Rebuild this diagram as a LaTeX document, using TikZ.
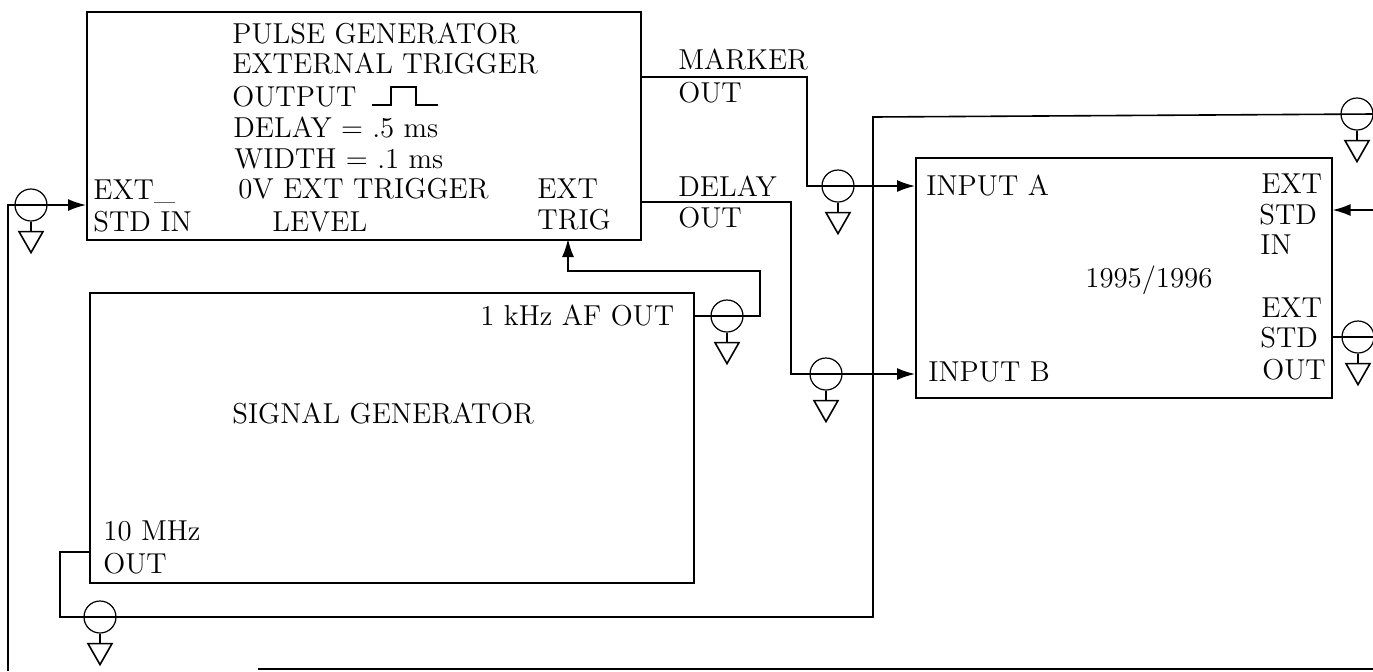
\documentclass[tikz,border=0pt]{standalone}
\usepackage{tikz}
\usetikzlibrary{arrows.meta,positioning,calc}

\tikzset{
    wire/.style={black, line width=0.8pt},
    feed/.style={wire, -{Latex[length=9pt,width=6pt]}},
    unitbox/.style={draw, line width=0.8pt, inner sep=0pt, anchor=north west},
    label/.style={anchor=base west, inner sep=0pt, font=\fontsize{14.4}{16}\selectfont},
    coax/.style={draw, circle, line width=0.6pt, minimum size=16pt, inner sep=0pt},
}

\begin{document}
\begin{tikzpicture}[x=0.5pt, y=-0.5pt]

    \useasboundingbox (0,0) rectangle (1373,671);

    % Instrument boxes
    \node[unitbox, minimum width=277pt, minimum height=114pt] (pulse) at (86,11) {};
    \node[unitbox, minimum width=302pt, minimum height=145pt] (signal) at (89,292) {};
    \node[unitbox, minimum width=208pt, minimum height=120pt] (counter) at (915,157) {};

    % Pulse generator text
    \foreach \n/\x/\y/\t in {pgtitle/232/43/PULSE GENERATOR, pgmode/232/73/EXTERNAL TRIGGER,
                             pgout/232/106/OUTPUT, pgdelay/233/137/{DELAY = .5 ms},
                             pgwidth/234/168/{WIDTH = .1 ms}, pglevel/238/198/0V EXT TRIGGER,
                             pglevelb/272/231/LEVEL, pgext/537/198/EXT, pgtrig/537/229/TRIG,
                             pgstd/93/199/EXT\_, pgstdb/93/231/STD IN} {
        \node[label] (\n) at (\x,\y) {\t};
    }

    % Output pulse glyph
    \draw[wire] (372,105) -- (391,105) -- (391,87) -- (416,87) -- (416,105) -- (438,105);

    % Port and signal generator text
    \foreach \n/\x/\y/\t in {mklabel/678/69/MARKER, mkout/678/102/OUT, dllabel/678/196/DELAY,
                             dlout/678/227/OUT, afout/480/325/1 kHz AF OUT,
                             sgtitle/232/423/SIGNAL GENERATOR, tenmhz/103/540/10 MHz,
                             tenout/103/573/OUT, inputa/926/195/INPUT A, inputb/928/381/INPUT B,
                             ctext/1261/193/EXT, cstd/1259/224/STD, cin/1260/254/IN,
                             cname/1085/287/{1995/1996}, cextb/1261/317/EXT, cstdb/1260/347/STD,
                             coutb/1262/379/OUT} {
        \node[label] (\n) at (\x,\y) {\t};
    }

    % Coax tees
    \foreach \n/\x/\y in {teestd/31/205, teemarker/838/186, teedelay/826/374, teeaf/727/316,
                          teeref/100/617, teeext/1357/114, teeout/1358/337} {
        \node[coax] (\n) at (\x,\y) {};
        \draw[wire] (\n.south) -- ++(0,10) coordinate (\n g);
        \draw[wire] ($(\n g)+(-12,0)$) -- ($(\n g)+(12,0)$) -- ($(\n g)+(0,21)$) -- cycle;
    }

    % Marker and delay outputs
    \coordinate (mkport) at (pulse.east |- 0,77);
    \coordinate (mkbend) at (807,77);
    \coordinate (mkdrop) at (807,186);
    \coordinate (inaport) at (counter.west |- 0,186);
    \draw[feed] (mkport) -- (mkbend) -- (mkdrop) -- (inaport);

    \coordinate (dlport) at (pulse.east |- 0,202);
    \coordinate (dlbend) at (791,202);
    \coordinate (dldrop) at (791,374);
    \coordinate (inbport) at (counter.west |- 0,374);
    \draw[feed] (dlport) -- (dlbend) -- (dldrop) -- (inbport);

    % 1 kHz trigger
    \coordinate (afport) at (signal.east |- 0,316);
    \coordinate (afbend) at (760,316);
    \coordinate (aftop) at (760,271);
    \coordinate (trigtop) at (568,271);
    \coordinate (trigport) at (568,239);
    \draw[feed] (afport) -- (afbend) -- (aftop) -- (trigtop) -- (trigport);

    % 10 MHz reference
    \coordinate (refport) at (signal.west |- 0,552);
    \coordinate (refleft) at (60,552);
    \coordinate (refdown) at (60,617);
    \coordinate (refright) at (873,617);
    \coordinate (refup) at (873,117);
    \coordinate (refend) at (1373,114);
    \draw[wire] (refport) -- (refleft) -- (refdown) -- (refright) -- (refup) -- (refend);

    % External standard loop
    \coordinate (stdin) at (counter.east |- 0,210);
    \coordinate (stdfree) at (1373,210);
    \draw[feed] (stdfree) -- (stdin);

    \coordinate (stdfar) at (1373,669);
    \coordinate (stdgap) at (258,669);
    \draw[wire] (stdfar) -- (stdgap);

    \coordinate (stdleft) at (8,671);
    \coordinate (stdcorner) at (8,205);
    \coordinate (pgport) at (pulse.west |- 0,205);
    \draw[feed] (stdleft) -- (stdcorner) -- (pgport);

    \coordinate (outport) at (counter.east |- 0,337);
    \coordinate (outfree) at (1373,337);
    \draw[wire] (outport) -- (outfree);

\end{tikzpicture}
\end{document}
